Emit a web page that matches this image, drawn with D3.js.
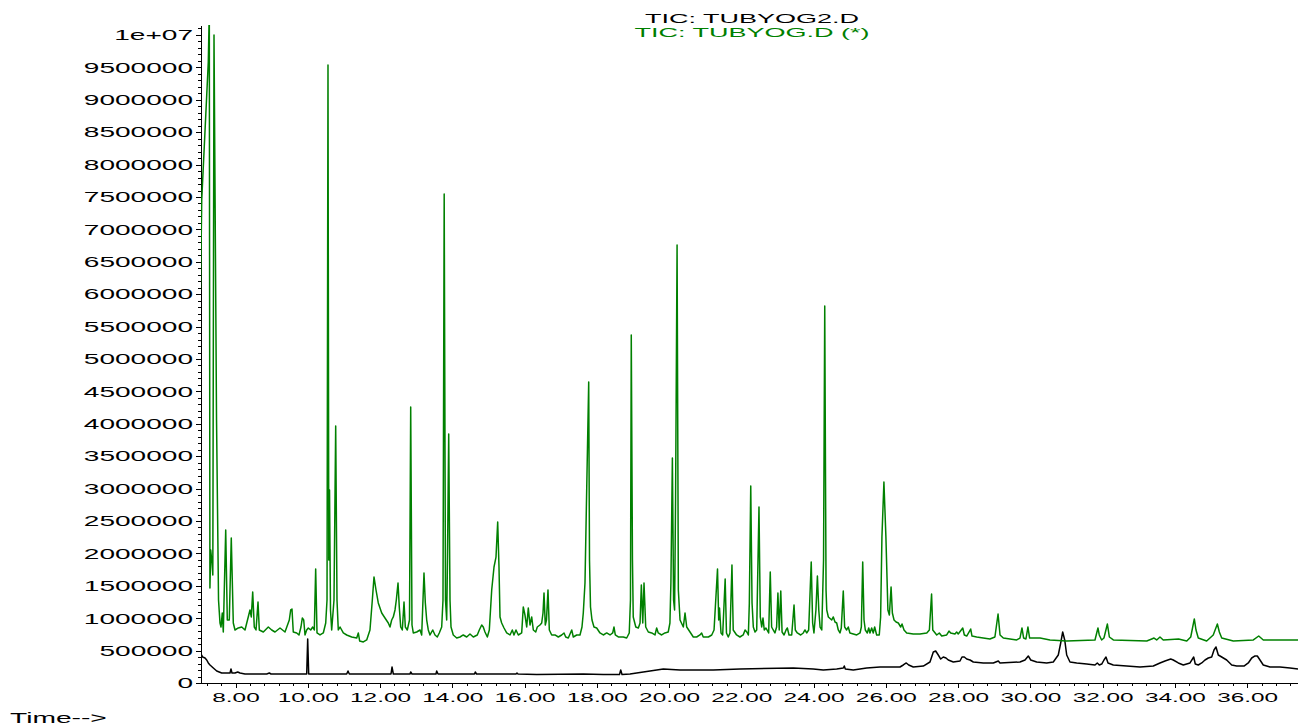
<!DOCTYPE html>
<html lang="en">
  <head>
    <meta charset="UTF-8" />
    <title>TIC chromatogram</title>
    <script src="https://d3js.org/d3.v7.min.js"></script>
    <style>
      body {
        margin: 0;
        background: #fff;
      }
      svg {
        display: block;
        font-family: "Liberation Sans", Arial, sans-serif;
      }
      .axis path,
      .axis line {
        fill: none;
        stroke: #000;
        shape-rendering: crispEdges;
      }
      .axis text {
        fill: #000;
      }
    </style>
  </head>
  <body>
    <svg width="1298" height="725"></svg>
    <script>
      // retention time (min) and abundance
      const greenTime = [
        7.032, 7.065, 7.247, 7.275, 7.292, 7.314, 7.35, 7.372, 7.405, 7.475,
        7.53, 7.571, 7.599, 7.634, 7.662, 7.729, 7.773, 7.828, 7.883, 7.939,
        7.986, 8.077, 8.172, 8.263, 8.401, 8.437, 8.476, 8.52, 8.568, 8.623,
        8.659, 8.77, 8.908, 9.002, 9.093, 9.232, 9.37, 9.489, 9.528, 9.563,
        9.599, 9.694, 9.757, 9.812, 9.849, 9.888, 9.924, 9.97, 10.015, 10.082,
        10.137, 10.181, 10.219, 10.256, 10.339, 10.43, 10.497, 10.533, 10.56, 10.582,
        10.602, 10.629, 10.662, 10.726, 10.773, 10.809, 10.845, 10.893, 10.984, 11.077,
        11.216, 11.355, 11.399, 11.437, 11.538, 11.631, 11.722, 11.787, 11.833, 11.889,
        11.952, 12.047, 12.137, 12.229, 12.276, 12.323, 12.367, 12.415, 12.451, 12.498,
        12.533, 12.572, 12.617, 12.664, 12.7, 12.755, 12.816, 12.849, 12.885, 12.921,
        13.015, 13.107, 13.153, 13.217, 13.254, 13.292, 13.336, 13.383, 13.459, 13.522,
        13.585, 13.64, 13.707, 13.743, 13.776, 13.812, 13.845, 13.867, 13.901, 13.937,
        13.965, 14.028, 14.123, 14.214, 14.304, 14.399, 14.49, 14.582, 14.692, 14.748,
        14.814, 14.858, 14.905, 14.97, 15.025, 15.091, 15.155, 15.21, 15.257, 15.293,
        15.321, 15.367, 15.432, 15.506, 15.598, 15.661, 15.708, 15.763, 15.828, 15.921,
        15.965, 16.012, 16.06, 16.104, 16.151, 16.198, 16.243, 16.309, 16.353, 16.427,
        16.475, 16.511, 16.539, 16.574, 16.607, 16.649, 16.686, 16.752, 16.843, 16.935,
        17.028, 17.093, 17.139, 17.211, 17.306, 17.35, 17.443, 17.535, 17.59, 17.626,
        17.673, 17.715, 17.776, 17.798, 17.826, 17.867, 17.922, 17.997, 18.088, 18.18,
        18.274, 18.366, 18.44, 18.476, 18.512, 18.595, 18.733, 18.827, 18.898, 18.932,
        18.954, 18.987, 19.009, 19.079, 19.15, 19.197, 19.233, 19.272, 19.307, 19.354,
        19.426, 19.52, 19.61, 19.657, 19.701, 19.795, 19.886, 19.977, 20.024, 20.051,
        20.092, 20.125, 20.153, 20.18, 20.222, 20.257, 20.304, 20.395, 20.442, 20.489,
        20.58, 20.671, 20.764, 20.855, 20.902, 20.946, 21.088, 21.181, 21.245, 21.341,
        21.374, 21.396, 21.438, 21.484, 21.553, 21.589, 21.639, 21.686, 21.741, 21.776,
        21.87, 21.961, 22.052, 22.104, 22.151, 22.195, 22.222, 22.261, 22.297, 22.332,
        22.379, 22.426, 22.489, 22.525, 22.564, 22.6, 22.635, 22.682, 22.757, 22.801,
        22.839, 22.883, 22.93, 22.977, 23.013, 23.049, 23.092, 23.128, 23.183, 23.238,
        23.274, 23.321, 23.395, 23.459, 23.494, 23.55, 23.643, 23.715, 23.762, 23.809,
        23.864, 23.935, 23.974, 24.01, 24.065, 24.106, 24.144, 24.18, 24.227, 24.276,
        24.309, 24.345, 24.365, 24.409, 24.502, 24.546, 24.593, 24.64, 24.684, 24.731,
        24.767, 24.822, 24.86, 24.915, 24.96, 25.006, 25.195, 25.286, 25.322, 25.36,
        25.396, 25.432, 25.487, 25.526, 25.561, 25.608, 25.652, 25.691, 25.746, 25.818,
        25.856, 25.892, 25.947, 26.002, 26.057, 26.098, 26.145, 26.181, 26.227, 26.283,
        26.346, 26.412, 26.448, 26.503, 26.577, 26.759, 26.944, 27.133, 27.205, 27.266,
        27.299, 27.409, 27.48, 27.547, 27.684, 27.748, 27.794, 27.913, 27.96, 28.004,
        28.129, 28.173, 28.239, 28.349, 28.385, 28.515, 28.696, 28.881, 29.019, 29.106,
        29.161, 29.252, 29.622, 29.713, 29.768, 29.814, 29.878, 29.933, 29.98, 30.269,
        30.544, 31.004, 31.789, 31.871, 31.907, 31.973, 32.037, 32.132, 32.187, 32.297,
        33.222, 33.36, 33.423, 33.497, 33.588, 33.679, 34.103, 34.329, 34.439, 34.538,
        34.585, 34.648, 34.88, 35.062, 35.176, 35.231, 35.297, 35.617, 36.173, 36.321,
        36.448, 37.408,
      ];
      const greenCounts = [
        6065000, 7454000, 9583000, 10400000, 1466000, 2052000, 1852000, 1667000, 10000000, 4059000,
        1281000, 926000, 864000, 1080000, 787000, 2361000, 972000, 972000, 2238000, 926000,
        818000, 849000, 864000, 818000, 1127000, 1019000, 1404000, 864000, 818000, 1250000,
        818000, 787000, 864000, 818000, 787000, 849000, 787000, 972000, 1127000, 1142000,
        787000, 772000, 741000, 864000, 1003000, 972000, 741000, 818000, 849000, 818000,
        864000, 818000, 1759000, 772000, 741000, 772000, 926000, 1281000, 9537000, 1898000,
        2978000, 1127000, 818000, 1281000, 3966000, 1281000, 818000, 864000, 772000, 741000,
        710000, 694000, 772000, 648000, 633000, 664000, 818000, 1281000, 1636000, 1435000,
        1235000, 1080000, 1003000, 926000, 864000, 972000, 1019000, 1127000, 1281000, 1543000,
        1173000, 864000, 818000, 1250000, 864000, 818000, 972000, 4259000, 895000, 772000,
        787000, 818000, 741000, 1698000, 1235000, 972000, 818000, 741000, 818000, 741000,
        710000, 772000, 864000, 1281000, 7546000, 1281000, 972000, 1898000, 3843000, 1281000,
        864000, 741000, 694000, 710000, 741000, 710000, 756000, 710000, 741000, 818000,
        895000, 864000, 787000, 710000, 818000, 1435000, 1790000, 1944000, 2485000, 1790000,
        1019000, 926000, 849000, 772000, 741000, 818000, 741000, 818000, 741000, 772000,
        1173000, 1049000, 864000, 1157000, 895000, 1019000, 818000, 787000, 864000, 895000,
        926000, 1080000, 1389000, 895000, 972000, 1435000, 818000, 741000, 741000, 710000,
        741000, 772000, 710000, 694000, 818000, 710000, 741000, 741000, 864000, 1080000,
        1543000, 2824000, 4645000, 1898000, 1173000, 972000, 864000, 849000, 772000, 741000,
        772000, 741000, 772000, 864000, 741000, 710000, 710000, 694000, 772000, 1281000,
        5370000, 1898000, 1019000, 864000, 849000, 926000, 1512000, 926000, 1543000, 864000,
        787000, 772000, 741000, 849000, 772000, 741000, 772000, 787000, 926000, 1543000,
        3472000, 1281000, 1127000, 2824000, 6759000, 1435000, 972000, 864000, 1080000, 864000,
        787000, 710000, 710000, 741000, 772000, 710000, 710000, 741000, 818000, 1759000,
        972000, 1157000, 772000, 741000, 1605000, 772000, 710000, 772000, 1821000, 818000,
        741000, 710000, 741000, 818000, 787000, 741000, 1235000, 3040000, 1235000, 864000,
        787000, 818000, 2716000, 1019000, 864000, 1003000, 818000, 849000, 772000, 1713000,
        864000, 818000, 772000, 864000, 1389000, 818000, 1420000, 787000, 741000, 818000,
        849000, 741000, 741000, 1204000, 818000, 772000, 741000, 772000, 818000, 772000,
        818000, 1867000, 926000, 772000, 1127000, 1651000, 1127000, 864000, 818000, 1898000,
        5818000, 1435000, 1127000, 1019000, 972000, 1019000, 941000, 926000, 818000, 772000,
        849000, 1420000, 864000, 818000, 864000, 772000, 741000, 772000, 864000, 1867000,
        972000, 818000, 772000, 849000, 772000, 849000, 772000, 864000, 741000, 741000,
        1019000, 2253000, 3102000, 2253000, 1127000, 1049000, 1481000, 1080000, 972000, 941000,
        926000, 864000, 910000, 818000, 772000, 756000, 756000, 772000, 818000, 1373000,
        818000, 741000, 772000, 725000, 741000, 802000, 772000, 756000, 787000, 756000,
        849000, 741000, 725000, 833000, 725000, 710000, 694000, 679000, 710000, 1065000,
        741000, 694000, 664000, 694000, 849000, 694000, 679000, 864000, 694000, 694000,
        664000, 648000, 664000, 849000, 741000, 664000, 694000, 910000, 710000, 664000,
        648000, 679000, 694000, 664000, 710000, 664000, 679000, 648000, 710000, 988000,
        818000, 694000, 648000, 741000, 910000, 787000, 694000, 648000, 664000, 725000,
        664000, 664000,
      ];

      const blackTime = [
        7.045, 7.092, 7.156, 7.203, 7.247, 7.294, 7.386, 7.48, 7.618, 7.756,
        7.848, 7.875, 7.903, 7.986, 8.061, 8.125, 8.263, 8.864, 8.936, 8.983,
        9.785, 9.971, 9.998, 10.026, 11.078, 11.114, 11.15, 12.304, 12.332, 12.368,
        12.83, 12.849, 12.885, 13.549, 13.569, 13.605, 14.615, 14.637, 14.67, 15.764,
        15.791, 15.819, 16.337, 17.626, 18.18, 18.628, 18.662, 18.698, 18.919, 19.104,
        19.287, 19.473, 19.658, 19.841, 20.303, 21.224, 21.964, 23.439, 23.992, 24.269,
        24.64, 24.823, 24.85, 24.878, 25.099, 25.47, 25.838, 26.392, 26.483, 26.566,
        26.633, 26.76, 27.037, 27.222, 27.314, 27.38, 27.452, 27.519, 27.59, 27.665,
        27.729, 27.867, 28.053, 28.108, 28.172, 28.238, 28.33, 28.421, 28.698, 28.974,
        29.113, 29.16, 29.713, 29.852, 29.943, 30.01, 30.175, 30.452, 30.635, 30.773,
        30.84, 30.895, 30.951, 31.006, 31.097, 31.283, 31.56, 31.789, 31.853, 31.908,
        31.975, 32.038, 32.094, 32.149, 32.295, 32.667, 33.035, 33.403, 33.588, 33.727,
        33.885, 33.956, 34.095, 34.233, 34.419, 34.521, 34.565, 34.648, 34.743, 34.834,
        34.925, 35.019, 35.083, 35.138, 35.202, 35.296, 35.434, 35.573, 35.711, 35.913,
        36.032, 36.127, 36.218, 36.282, 36.356, 36.447, 36.633, 36.91, 37.187, 37.408,
      ];
      const blackCounts = [
        448000, 401000, 386000, 355000, 309000, 278000, 231000, 185000, 154000, 154000,
        154000, 216000, 154000, 154000, 170000, 154000, 139000, 139000, 154000, 139000,
        139000, 139000, 679000, 139000, 139000, 185000, 139000, 139000, 247000, 139000,
        139000, 170000, 139000, 139000, 185000, 139000, 139000, 170000, 139000, 139000,
        154000, 139000, 130000, 139000, 130000, 130000, 201000, 130000, 139000, 154000,
        170000, 185000, 201000, 216000, 201000, 201000, 216000, 231000, 216000, 201000,
        216000, 231000, 262000, 216000, 201000, 231000, 247000, 247000, 278000, 309000,
        278000, 247000, 262000, 324000, 478000, 494000, 432000, 370000, 401000, 386000,
        355000, 324000, 340000, 401000, 401000, 370000, 355000, 324000, 309000, 309000,
        340000, 309000, 324000, 355000, 417000, 355000, 324000, 309000, 324000, 432000,
        617000, 787000, 664000, 432000, 324000, 309000, 293000, 278000, 309000, 278000,
        293000, 355000, 401000, 309000, 278000, 262000, 247000, 262000, 309000, 340000,
        370000, 355000, 309000, 278000, 309000, 401000, 293000, 278000, 309000, 355000,
        386000, 401000, 509000, 556000, 432000, 401000, 355000, 278000, 262000, 262000,
        309000, 386000, 417000, 417000, 355000, 278000, 247000, 247000, 231000, 216000,
      ];

      const xTickValues = [8, 10, 12, 14, 16, 18, 20, 22, 24, 26, 28, 30, 32, 34, 36];
      const xTickLabels = [
        "8.00", "10.00", "12.00", "14.00", "16.00", "18.00", "20.00", "22.00",
        "24.00", "26.00", "28.00", "30.00", "32.00", "34.00", "36.00",
      ];
      const yTickValues = [
        0, 500000, 1000000, 1500000, 2000000, 2500000, 3000000, 3500000, 4000000,
        4500000, 5000000, 5500000, 6000000, 6500000, 7000000, 7500000, 8000000,
        8500000, 9000000, 9500000, 10000000,
      ];
      const yTickLabels = [
        "0", "500000", "1000000", "1500000", "2000000", "2500000", "3000000",
        "3500000", "4000000", "4500000", "5000000", "5500000", "6000000",
        "6500000", "7000000", "7500000", "8000000", "8500000", "9000000",
        "9500000", "1e+07",
      ];
      const traceNames = ["TIC: TUBYOG2.D", "TIC: TUBYOG.D (*)"];

      const green = "#008000";
      const plot = { left: 201, right: 1298, top: 25, bottom: 683 };

      const svg = d3.select("svg");

      const x = d3
        .scaleLinear()
        .domain([7.045, 37.408])
        .range([plot.left, plot.right]);

      const y = d3
        .scaleLinear()
        .domain([0, 10154000])
        .range([plot.bottom, plot.top]);

      svg
        .append("defs")
        .append("clipPath")
        .attr("id", "clip")
        .append("rect")
        .attr("x", plot.left)
        .attr("y", plot.top)
        .attr("width", plot.right - plot.left)
        .attr("height", plot.bottom - plot.top);

      // minor ticks first, then the labelled axes on top
      svg
        .append("g")
        .attr("class", "axis")
        .attr("transform", `translate(0,${plot.bottom})`)
        .call(
          d3
            .axisBottom(x)
            .tickValues(d3.range(7.2, 37.3, 0.4))
            .tickSize(3)
            .tickSizeOuter(0)
            .tickFormat("")
        );

      svg
        .append("g")
        .attr("class", "axis")
        .attr("transform", `translate(${plot.left},0)`)
        .call(
          d3
            .axisLeft(y)
            .tickValues(d3.range(0, 10150000, 100000))
            .tickSize(3)
            .tickSizeOuter(0)
            .tickFormat("")
        );

      const xLabelScale = 1.95;
      const xAxis = svg
        .append("g")
        .attr("class", "axis")
        .attr("transform", `translate(0,${plot.bottom})`)
        .call(
          d3
            .axisBottom(x)
            .tickValues(xTickValues)
            .tickSize(5)
            .tickSizeOuter(0)
            .tickPadding(5)
            .tickFormat((d, i) => xTickLabels[i])
        );
      xAxis
        .selectAll("text")
        .style("font-size", "12.5px")
        .attr("transform", `scale(${xLabelScale},1)`);

      const yLabelScale = 1.87;
      const yAxis = svg
        .append("g")
        .attr("class", "axis")
        .attr("transform", `translate(${plot.left},0)`)
        .call(
          d3
            .axisLeft(y)
            .tickValues(yTickValues)
            .tickSize(5)
            .tickSizeOuter(0)
            .tickPadding(3)
            .tickFormat((d, i) => yTickLabels[i])
        );
      yAxis
        .selectAll("text")
        .style("font-size", "15px")
        .attr("x", -8 / yLabelScale)
        .attr("transform", `scale(${yLabelScale},1)`);

      // traces
      const line = d3
        .line()
        .x((d) => x(d[0]))
        .y((d) => y(d[1]));

      const traces = svg.append("g").attr("clip-path", "url(#clip)");

      traces
        .append("path")
        .datum(blackTime.map((t, i) => [t, blackCounts[i]]))
        .attr("fill", "none")
        .attr("stroke", "#000")
        .attr("stroke-width", 1.5)
        .attr("stroke-linejoin", "round")
        .attr("d", line);

      traces
        .append("path")
        .datum(greenTime.map((t, i) => [t, greenCounts[i]]))
        .attr("fill", "none")
        .attr("stroke", green)
        .attr("stroke-width", 1.5)
        .attr("stroke-linejoin", "round")
        .attr("d", line);

      // header with the two trace names
      const titleScale = 2.08;
      svg
        .selectAll(".trace-name")
        .data(traceNames)
        .enter()
        .append("text")
        .attr("class", "trace-name")
        .attr("transform", (d, i) => `translate(752,${22.7 + i * 14}) scale(${titleScale},1)`)
        .attr("text-anchor", "middle")
        .style("font-size", "13px")
        .attr("fill", (d, i) => (i === 0 ? "#000" : green))
        .text((d) => d);

      svg
        .append("text")
        .attr("transform", "translate(10,722.5) scale(1.88,1)")
        .style("font-size", "15px")
        .text("Time-->");
    </script>
  </body>
</html>
